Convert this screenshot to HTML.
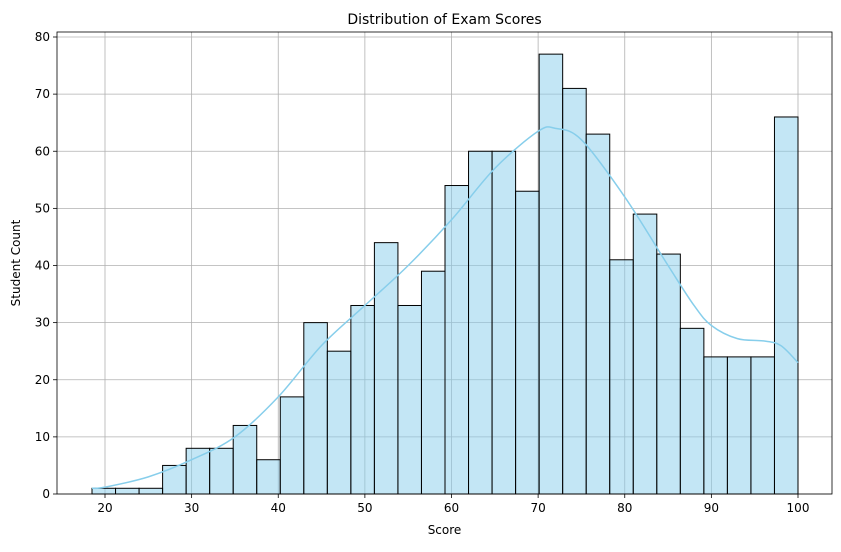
<!DOCTYPE html>
<html><head><meta charset="utf-8"><style>
body{margin:0;background:#fff;font-family:"Liberation Sans","DejaVu Sans",sans-serif}
svg text{font-family:"DejaVu Sans","Liberation Sans",sans-serif}
</style></head><body>
<svg id="chart" width="841" height="547" xmlns="http://www.w3.org/2000/svg"></svg>
<script>
const binStart = 18.5;
const binEnd = 100;
const counts = [1,1,1,5,8,8,12,6,17,30,25,33,44,33,39,54,60,60,53,77,71,63,41,49,42,29,24,24,24,66];
const kdeX = [18.5,20,25,30,35,40,45,50,55,60,65,70,72,75,80,85,88,90,93,96,98,100];
const kdeY = [1,1.2,3,6,10,17,26,33,40,48,57,63.5,64,62,52,40,33,29.5,27.2,26.8,26,23];
const xTicks = [20,30,40,50,60,70,80,90,100];
const yTicks = [0,10,20,30,40,50,60,70,80];

const L=57,R=832,T=32,B=494;
const sx=v=>105+(v-20)*(693/80);
const sy=v=>B-v*(457/80);
const svg=document.getElementById('chart');
const NS='http://www.w3.org/2000/svg';
function mk(tag,attrs,parent){const e=document.createElementNS(NS,tag);for(const k in attrs)e.setAttribute(k,attrs[k]);(parent||svg).appendChild(e);return e;}

const grid=mk('g',{});


xTicks.forEach(t=>{const l=mk('line',{x1:sx(t),x2:sx(t),y1:T,y2:B,stroke:'#b0b0b0','stroke-width':0.8},grid);

});
yTicks.forEach(t=>{const l=mk('line',{x1:L,x2:R,y1:sy(t),y2:sy(t),stroke:'#b0b0b0','stroke-width':0.8},grid);

});

const bw=(binEnd-binStart)/counts.length;
counts.forEach((c,i)=>{const x0=sx(binStart+i*bw),x1=sx(binStart+(i+1)*bw);
const r=mk('rect',{x:x0,y:sy(c),width:x1-x0,height:B-sy(c),fill:'rgba(135,206,235,0.5)',stroke:'#000','stroke-width':1});

});

const pts=kdeX.map((x,i)=>[sx(x),sy(kdeY[i])]);
let d='M'+pts[0][0]+','+pts[0][1];
for(let i=0;i<pts.length-1;i++){const p0=pts[i-1]||pts[i],p1=pts[i],p2=pts[i+1],p3=pts[i+2]||p2;
d+=` C${p1[0]+(p2[0]-p0[0])/6},${p1[1]+(p2[1]-p0[1])/6} ${p2[0]-(p3[0]-p1[0])/6},${p2[1]-(p3[1]-p1[1])/6} ${p2[0]},${p2[1]}`;}
const kde=mk('path',{d:d,fill:'none',stroke:'#87ceeb','stroke-width':1.5});



const frame=mk('rect',{x:L,y:T,width:R-L,height:B-T,fill:'none',stroke:'#000','stroke-width':0.8});



xTicks.forEach(t=>{mk('line',{x1:sx(t),x2:sx(t),y1:B,y2:B+4,stroke:'#000','stroke-width':0.8});
const tx=mk('text',{x:sx(t),y:B+18,'text-anchor':'middle','font-size':12,fill:'#000'});tx.textContent=t;

});
yTicks.forEach(t=>{mk('line',{x1:L-4,x2:L,y1:sy(t),y2:sy(t),stroke:'#000','stroke-width':0.8});
const tx=mk('text',{x:L-7,y:sy(t)+4,'text-anchor':'end','font-size':12,fill:'#000'});tx.textContent=t;

});

const title=mk('text',{x:(L+R)/2,y:24,'text-anchor':'middle','font-size':14,fill:'#000'});title.textContent='Distribution of Exam Scores';


const xl=mk('text',{x:(L+R)/2,y:534,'text-anchor':'middle','font-size':12,fill:'#000'});xl.textContent='Score';


const yl=mk('text',{x:20,y:(T+B)/2,'text-anchor':'middle','font-size':12,fill:'#000',transform:`rotate(-90 20 ${(T+B)/2})`});yl.textContent='Student Count';


</script>
</body></html>
